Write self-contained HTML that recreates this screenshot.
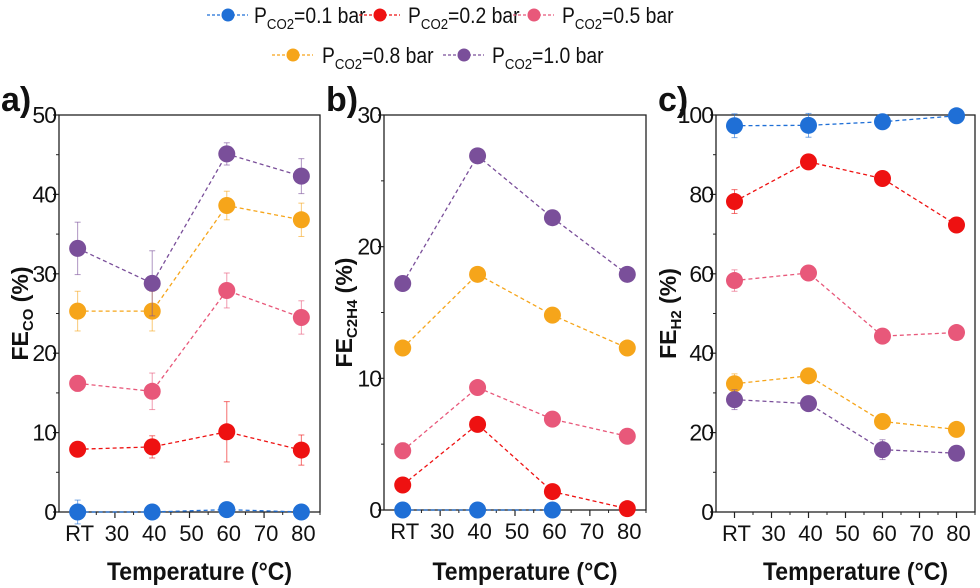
<!DOCTYPE html>
<html><head><meta charset="utf-8"><style>
html,body{margin:0;padding:0;background:#fff;}
svg{display:block;font-family:"Liberation Sans",Arial,sans-serif;}
</style></head><body>
<svg id="chart" width="980" height="588" viewBox="0 0 980 588" xmlns="http://www.w3.org/2000/svg"></svg>
<script>
const seriesNames = ["0.1","0.2","0.5","0.8","1.0"];
const colors = ["#1f6fd6","#ee1111","#e8587a","#f6a51a","#7a4f9a"];
const xCats = [20,40,60,80];
const xTickVals = [20,30,40,50,60,70,80];
const xTickLabels = ["RT","30","40","50","60","70","80"];
const aVals = [[0,0,0.3,0],[7.9,8.2,10.1,7.8],[16.2,15.2,27.9,24.5],[25.3,25.3,38.6,36.8],[33.2,28.8,45.1,42.3]];
const aErr = [[1.5,0,0,0],[0.5,1.4,3.8,1.9],[1,2.3,2.2,2.1],[2.5,2.5,1.8,2.1],[3.3,4.1,1.4,2.2]];
const bVals = [[0,0,0,null],[1.9,6.5,1.4,0.1],[4.5,9.3,6.9,5.6],[12.3,17.9,14.8,12.3],[17.2,26.9,22.2,17.9]];
const bErr = [[0,0,0,0],[0.3,0.3,0.3,0.2],[0.6,0.4,0.3,0.5],[0.4,0.4,0.4,0.5],[0.3,0.4,0.3,0.3]];
const cVals = [[97.3,97.4,98.3,99.8],[78.2,88.2,84,72.3],[58.3,60.2,44.3,45.2],[32.3,34.3,22.8,20.8],[28.3,27.3,15.7,14.8]];
const cErr = [[3,3,1,0.5],[3,1.5,1,1],[2.7,1.5,1.5,1],[2.5,1.5,1.5,1],[2.5,1.5,2.5,1]];
const aTicks = [0,10,20,30,40,50];
const bTicks = [0,10,20,30];
const cTicks = [0,20,40,60,80,100];

const NS="http://www.w3.org/2000/svg";
const svg=document.getElementById('chart');
function mk(tag,attrs,parent){const e=document.createElementNS(NS,tag);for(const k in attrs)e.setAttribute(k,attrs[k]);(parent||svg).appendChild(e);return e;}

function panel(id,label,L,R,T,B,ymax,ticks,vals,errs,ytitleSub,ytx){
  const g=mk('g',{});
  
  
  const xs=v=>L+(v-15)/70*(R-L);
  const ys=v=>B-v/ymax*(B-T);
  const frame=mk('rect',{x:L,y:T,width:R-L,height:B-T,fill:'none',stroke:'#222','stroke-width':1.3},g);
  
  
  xTickVals.forEach((v,i)=>{
    mk('line',{x1:xs(v),x2:xs(v),y1:B,y2:B+6,stroke:'#222','stroke-width':1.2},g);
    mk('line',{x1:xs(v+5),x2:xs(v+5),y1:B,y2:B+3,stroke:'#222','stroke-width':1},g);
    const t=mk('text',{x:xs(v)+2,y:B+29,'font-size':22,'text-anchor':'middle',fill:'#111'},g);
    t.textContent=xTickLabels[i];
    
    
  });
  ticks.forEach((v,i)=>{
    mk('line',{x1:L-6,x2:L,y1:ys(v),y2:ys(v),stroke:'#222','stroke-width':1.2},g);
    if(i<ticks.length-1){const m=(v+ticks[i+1])/2;mk('line',{x1:L-3,x2:L,y1:ys(m),y2:ys(m),stroke:'#222','stroke-width':1},g);}
    const t=mk('text',{x:L-3,y:ys(v)+8,'font-size':23,'text-anchor':'end',fill:'#111','letter-spacing':-1},g);
    t.textContent=v;
    
    
  });
  vals.forEach((s,si)=>{
    const pts=[];s.forEach((v,j)=>{if(v!==null)pts.push([xs(xCats[j]),ys(v)]);});
    const pl=mk('polyline',{points:pts.map(p=>p[0]+','+p[1]).join(' '),fill:'none',stroke:colors[si],'stroke-width':1.3,'stroke-dasharray':'4,3'},g);
    
    
    s.forEach((v,j)=>{
      if(v===null)return;
      const x=xs(xCats[j]),y=ys(v),e=errs[si][j]/ymax*(B-T);
      if(e>0){mk('line',{x1:x,x2:x,y1:y-e,y2:y+e,stroke:colors[si],'stroke-width':1,opacity:0.6},g);
        mk('line',{x1:x-3,x2:x+3,y1:y-e,y2:y-e,stroke:colors[si],'stroke-width':1,opacity:0.6},g);
        mk('line',{x1:x-3,x2:x+3,y1:y+e,y2:y+e,stroke:colors[si],'stroke-width':1,opacity:0.6},g);}
      const c=mk('circle',{cx:x,cy:y,r:8.5,fill:colors[si]},g);
      
      
    });
  });
  const lab=mk('text',{x:L-58,y:T-4,'font-size':34,'font-weight':'bold',fill:'#111'},g);
  lab.textContent=label;
  
  
  const yt=mk('text',{transform:`translate(${ytx},${(T+B)/2}) rotate(-90)`,'font-size':23,'font-weight':'bold','text-anchor':'middle',fill:'#111'},g);
  
  
  const t1=mk('tspan',{},yt);t1.textContent='FE';
  const t2=mk('tspan',{'font-size':15,dy:5},yt);t2.textContent=ytitleSub;
  const t3=mk('tspan',{dy:-5},yt);t3.textContent=' (%)';
  const xt=mk('text',{transform:`translate(${(L+R)/2+10},580) scale(0.92,1)`,'font-size':25,'font-weight':'bold','text-anchor':'middle',fill:'#111'},g);
  xt.textContent='Temperature (°C)';
  
  
}
panel('a','a)',59,320,115,512,50,aTicks,aVals,aErr,'CO',28);
panel('b','b)',384,646,115,510,30,bTicks,bVals,bErr,'C2H4',352);
panel('c','c)',716,975,115,512,100,cTicks,cVals,cErr,'H2',676);

const legX=[[207,254],[359,408],[513,562],[272,322],[443,492]];
const legY=[15,15,15,55,55];
seriesNames.forEach((n,i)=>{
  const g=mk('g',{});
  
  
  const [lx,tx]=legX[i],y=legY[i];
  mk('line',{x1:lx,x2:lx+41,y1:y,y2:y,stroke:colors[i],'stroke-width':1.2,'stroke-dasharray':'3,2'},g);
  mk('circle',{cx:lx+21,cy:y,r:6.5,fill:colors[i]},g);
  const t=mk('text',{transform:`translate(${tx},${y+8}) scale(0.88,1)`,'font-size':22,fill:'#111'},g);
  const a=mk('tspan',{},t);a.textContent='P';
  const b=mk('tspan',{'font-size':15,dy:6},t);b.textContent='CO2';
  const c=mk('tspan',{dy:-6},t);c.textContent='='+n+' bar';
});
</script>
</body></html>
